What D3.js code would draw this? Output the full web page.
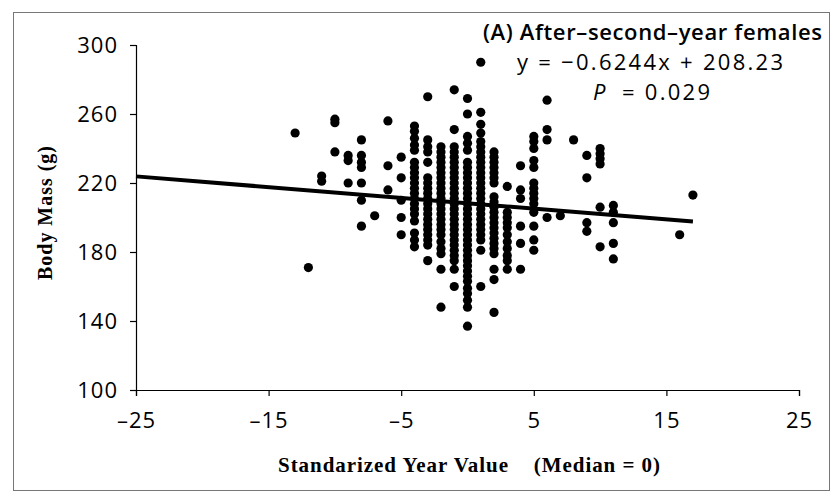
<!DOCTYPE html>
<html><head><meta charset="utf-8">
<script src="https://cdn.jsdelivr.net/npm/d3@7"></script>
<style>
html,body{margin:0;padding:0;background:#fff;}
svg{display:block;}
</style></head>
<body>
<script>
// Standardized year value columns and body masses (g)
const yearValues = [-13,-12,-11,-10,-9,-8,-7,-6,-5,-4,-3,-2,-1,0,1,2,3,4,5,6,7,8,9,10,11,16,17];
const massByYear = [
  [249],
  [171],
  [224,221],
  [257,255,238],
  [236,233,220],
  [245,236,232,229,220,210,195],
  [201],
  [256,230,216],
  [235,223,210,200,190],
  [253,250,246,242,239,232,229,226,223,220,217,214,211,208,205,202,198,191,187,183],
  [270,245,241,238,232,223,220,217,214,211,208,205,202,199,196,193,190,187,184,175],
  [241,238,235,232,229,226,223,220,217,214,211,208,205,202,199,196,193,190,186,182,179,170,148],
  [274,251,241,238,235,232,229,226,223,220,217,214,211,208,205,202,199,196,193,190,187,184,181,178,175,170,160],
  [269,260,247,243,239,232,229,226,223,220,217,214,211,208,205,202,199,196,193,190,187,184,181,178,175,172,169,166,163,159,156,152,148,137],
  [290,261,254,249,244,241,238,235,232,229,226,223,220,217,214,211,208,205,202,199,196,193,190,187,181,160],
  [238,235,232,229,226,223,220,212,209,206,203,200,197,194,191,188,185,182,179,170,164,145],
  [218,203,200,197,194,190,186,182,178,175,170],
  [230,216,211,195,185,170],
  [247,244,240,233,229,220,217,214,211,208,203,195,187,181],
  [268,251,245,200],
  [201],
  [245],
  [236,223,197,192],
  [240,237,234,231,206,183],
  [207,203,197,185,176],
  [190],
  [213]
];
const xTicks = [-25,-15,-5,5,15,25];
const yTicks = [100,140,180,220,260,300];
const slope = -0.6244, intercept = 208.23;
const fitRange = [-25, 17];
const titleLines = ["(A) After\u2013second\u2013year females", "y = \u22120.6244x + 208.23", "P", "= 0.029"];
const xTitle = "Standarized Year Value    (Median = 0)";
const yTitle = "Body Mass (g)";

const W = 839, H = 499;
const svg = d3.select("body").append("svg").attr("width", W).attr("height", H);

// outer frame
svg.append("rect").attr("x", 13.5).attr("y", 12.5).attr("width", 816).attr("height", 478)
  .attr("fill", "none").attr("stroke", "#777").attr("stroke-width", 1);

const x = d3.scaleLinear().domain([-25, 25]).range([136, 799]);
const y = d3.scaleLinear().domain([100, 300]).range([390, 45]);

const sans = "'Open Sans', 'Noto Sans', sans-serif";
const serif = "'Liberation Serif', 'DejaVu Serif', serif";

const xAxis = svg.append("g").attr("transform", `translate(0,${y(100)})`)
  .call(d3.axisBottom(x).tickValues(xTicks).tickSize(6).tickPadding(14)
    .tickFormat(d => (d < 0 ? "\u2013" + Math.abs(d) : "" + d)));
const yAxis = svg.append("g").attr("transform", `translate(${x(-25)},0)`)
  .call(d3.axisLeft(y).tickValues(yTicks).tickSize(6).tickPadding(12));
[xAxis, yAxis].forEach(g => {
  g.select(".domain").attr("stroke", "#000").attr("stroke-width", 1.2);
  g.selectAll(".tick line").attr("stroke", "#000").attr("stroke-width", 1.2);
  g.selectAll("text").attr("font-family", sans).attr("font-size", 22).attr("fill", "#000")
    .attr("letter-spacing", 1);
});
xAxis.selectAll("text").attr("dy", "0.8em");

// points
const pts = [];
yearValues.forEach((yr, i) => massByYear[i].forEach(m => pts.push([yr, m])));
svg.append("g").selectAll("circle").data(pts).join("circle")
  .attr("cx", d => x(d[0])).attr("cy", d => y(d[1])).attr("r", 4.6).attr("fill", "#000");

// regression line
svg.append("line")
  .attr("x1", x(fitRange[0])).attr("y1", y(intercept + slope * fitRange[0]))
  .attr("x2", x(fitRange[1])).attr("y2", y(intercept + slope * fitRange[1]))
  .attr("stroke", "#000").attr("stroke-width", 4);

// annotation
svg.append("text").attr("x", 483).attr("y", 40)
  .attr("font-family", sans).attr("font-size", 22).attr("font-weight", 600)
  .attr("textLength", 339).attr("lengthAdjust", "spacing").text(titleLines[0]);
svg.append("text").attr("x", 517).attr("y", 70)
  .attr("font-family", sans).attr("font-size", 22)
  .attr("textLength", 266).attr("lengthAdjust", "spacing").text(titleLines[1]);
svg.append("text").attr("x", 593).attr("y", 100)
  .attr("font-family", sans).attr("font-size", 22).attr("font-style", "italic").text(titleLines[2]);
svg.append("text").attr("x", 622).attr("y", 100)
  .attr("font-family", sans).attr("font-size", 22)
  .attr("textLength", 88).attr("lengthAdjust", "spacing").text(titleLines[3]);

// axis titles
svg.append("text").attr("x", 278).attr("y", 472)
  .attr("font-family", serif).attr("font-weight", "bold").attr("font-size", 21)
  .attr("textLength", 382).attr("lengthAdjust", "spacing")
  .style("white-space", "pre").text(xTitle);
svg.append("text").attr("transform", `translate(52,${213}) rotate(-90)`).attr("text-anchor", "middle")
  .attr("font-family", serif).attr("font-weight", "bold").attr("font-size", 20)
  .attr("textLength", 134).attr("lengthAdjust", "spacing").text(yTitle);
</script>
</body></html>
